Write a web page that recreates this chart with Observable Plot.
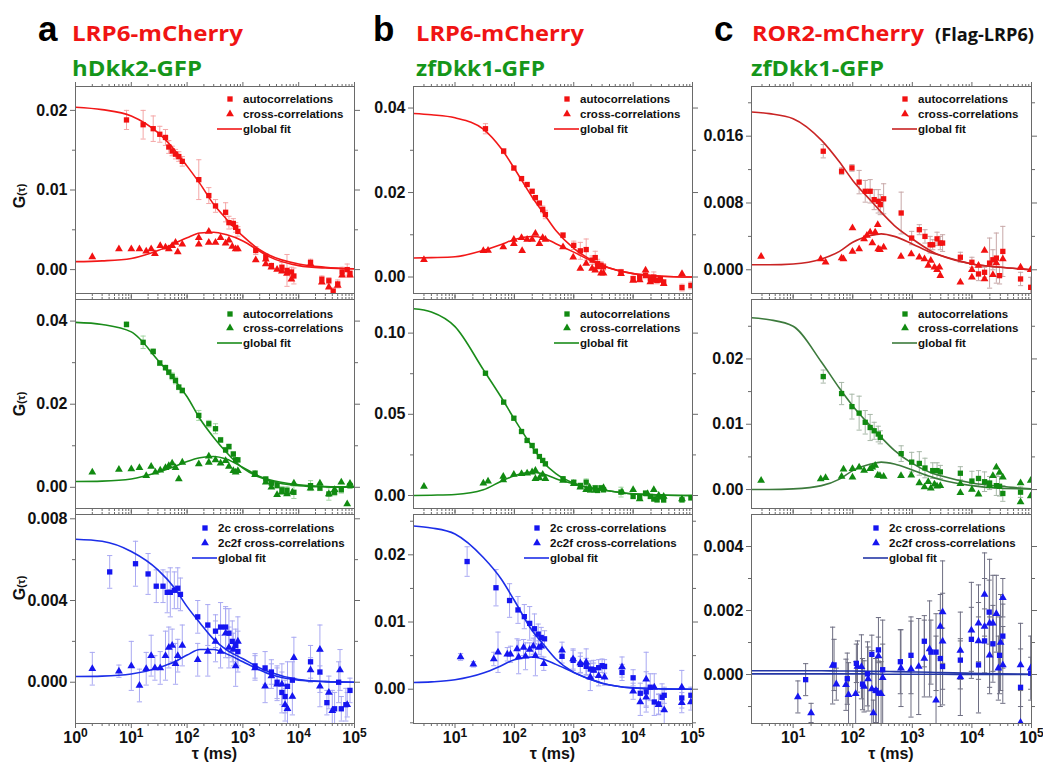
<!DOCTYPE html>
<html><head><meta charset="utf-8">
<script src="https://cdn.jsdelivr.net/npm/d3@7"></script>
<script src="https://cdn.jsdelivr.net/npm/@observablehq/plot@0.6"></script>
<style>
body{margin:0;background:#fff;}
#fig{position:relative;width:1043px;height:769px;overflow:hidden;background:#fff;}
</style></head><body><div id="fig"></div>
<script>
// ---------- text ----------
const panelLetters = ["a", "b", "c"];
const redTitles = ["LRP6-mCherry", "LRP6-mCherry", "ROR2-mCherry"];
const greenTitles = ["hDkk2-GFP", "zfDkk1-GFP", "zfDkk1-GFP"];
const extraTitle = "(Flag-LRP6)";
const topLegend = ["autocorrelations", "cross-correlations", "global fit"];
const bottomLegend = ["2c cross-correlations", "2c2f cross-correlations", "global fit"];
const xLabel = "τ (ms)";

// ---------- column a, top (LRP6-mCherry / hDkk2-GFP, red channel) ----------
const aTopAutoT = [8.2,16.3,24.7,32.4,41,47,54,62,71,82,162,245,323,490,562,673,741,813,1700,2570,3240,5000,6170,7400,8200,16300,26000,34700,41500,50000,60000,74000,83000];
const aTopAutoG = [0.0188,0.0182,0.0177,0.0170,0.0166,0.0154,0.0149,0.0145,0.0142,0.0136,0.0113,0.0093,0.0080,0.0072,0.0059,0.0058,0.0053,0.0048,0.0024,0.0016,0.0005,0.0003,-0.0001,-0.0003,-0.0008,0.0009,-0.0012,-0.0014,-0.0027,-0.0018,-0.0003,0.0000,-0.0005];
const aTopAutoE = [0.0012,0.0018,0.0016,0.0010,0.0010,0.0008,0.0006,0.0006,0.0006,0.0006,0.0025,0.0010,0.0008,0.0012,0.0008,0.0006,0.0006,0.0006,0.0005,0.0004,0.0003,0.0006,0.0020,0.0006,0.0010,0.0004,0.0004,0.0004,0.0004,0.0005,0.0006,0.0007,0.0004];
const aTopCrossT = [2.0,6.0,10,14,18.5,22.7,26.5,33,41,47,54,62,68,82,162,162,245,245,323,398,490,562,645,741,813,1700,2570,2570,3240,4100,5000,6170,7400,16300,26000,34700,50000,60000,83000];
const aTopCrossG = [0.0016,0.0026,0.0026,0.0026,0.0023,0.0026,0.0020,0.0030,0.0028,0.0026,0.0030,0.0034,0.0022,0.0032,0.0040,0.0032,0.0048,0.0034,0.0034,0.0040,0.0033,0.0037,0.0029,0.0026,0.0026,0.0012,0.0013,0.0007,0.0003,0.0000,-0.0002,-0.0005,-0.0012,0.0007,-0.0016,-0.0022,-0.0020,-0.0007,-0.0007];
const aFitT = [1,3,10,30,60,100,170,300,500,1000,2000,3000,10000,30000,100000];
const aTopFitAuto = [0.0204,0.0201,0.0193,0.0172,0.0150,0.0130,0.0108,0.0082,0.0064,0.0042,0.0025,0.0018,0.0007,0.0003,0.0001];
const aTopFitCross = [0.0010,0.0011,0.0014,0.0024,0.0033,0.0040,0.0046,0.0047,0.0044,0.0036,0.0023,0.0016,0.0005,0.0002,0.0001];

// ---------- column a, middle (green channel) ----------
const aMidAutoT = [8.2,16.3,24.7,32.4,41,47,54,62,71,82,162,245,323,398,490,562,673,741,813,1650,2570,3240,4100,5000,6170,8200,16300,24000,34700,44000,58000,83000];
const aMidAutoG = [0.0392,0.0349,0.0327,0.0299,0.0288,0.0277,0.0267,0.0257,0.0241,0.0233,0.0173,0.0153,0.0141,0.0114,0.0090,0.0098,0.0080,0.0066,0.0066,0.0034,0.0020,0.0010,0.0004,-0.0006,-0.0007,-0.0012,0.0004,-0.0002,-0.0016,-0.0012,-0.0006,0.0004];
const aMidAutoE = [0.0006,0.0015,0.0006,0.0006,0.0006,0.0006,0.0008,0.0008,0.0006,0.0006,0.0012,0.0008,0.0012,0.0006,0.0006,0.0006,0.0006,0.0005,0.0005,0.0005,0.0005,0.0005,0.0005,0.0008,0.0008,0.0015,0.0012,0.0006,0.0015,0.0008,0.0008,0.0006];
const aMidCrossT = [2.0,6,10,14,18.5,22.7,27,33,41,47,54,62,71,82,162,245,245,323,398,490,562,673,741,813,1650,2570,3240,4100,5000,6170,7700,8200,16300,24000,34700,44000,58000,74000,83000];
const aMidCrossG = [0.0036,0.0043,0.0044,0.0047,0.0028,0.0050,0.0036,0.0041,0.0047,0.0052,0.0058,0.0047,0.0020,0.0060,0.0056,0.0075,0.0060,0.0066,0.0058,0.0064,0.0050,0.0040,0.0036,0.0040,0.0030,0.0012,0.0000,-0.0018,-0.0012,-0.0016,-0.0012,0.0010,-0.0002,0.0010,-0.0016,-0.0006,0.0012,-0.0040,0.0009];
const aMidFitAuto = [0.0397,0.0392,0.0374,0.0306,0.0258,0.0218,0.0165,0.0120,0.0085,0.0046,0.0024,0.0016,0.0004,0.0001,0.0000];
const aMidFitCross = [0.0014,0.0015,0.0020,0.0036,0.0050,0.0062,0.0071,0.0074,0.0068,0.0048,0.0026,0.0018,0.0006,0.0002,0.0001];

// ---------- column a, bottom (two-colour, blue) ----------
const aBot2cT = [4.1,11.9,20,28,37,44,50,59,68,76,155,235,323,398,490,562,645,741,813,1650,2500,3240,4100,5000,5700,6300,7700,16300,24000,32000,44000,52000,58000,70000,83000];
const aBot2cG = [0.0054,0.0058,0.0053,0.0047,0.0047,0.0044,0.0044,0.0045,0.0046,0.0043,0.0032,0.0028,0.0025,0.0027,0.0027,0.0024,0.0020,0.0018,0.0015,0.0008,0.0007,0.0005,0.0000,-0.0005,-0.0007,-0.0002,0.0001,0.0010,0.0005,-0.0010,-0.0013,0.0000,-0.0013,-0.0011,-0.0004];
const aBot2cE = [0.0008,0.0011,0.0010,0.0008,0.0008,0.0010,0.0012,0.0009,0.0010,0.0008,0.0008,0.0010,0.0008,0.0012,0.0010,0.0012,0.0010,0.0008,0.0010,0.0006,0.0008,0.0006,0.0008,0.0010,0.0008,0.0012,0.0009,0.0008,0.0010,0.0006,0.0008,0.0010,0.0006,0.0008,0.0006];
const aBot2c2fT = [2.0,6,10,14,18.5,22.7,26.5,33,41,47,54,62,68,82,155,235,323,398,490,562,673,741,813,1650,2500,3240,4100,5000,5700,6300,7700,8200,16300,24000,24000,34700,40000,55000,74000];
const aBot2c2fG = [0.00066,0.00054,0.0008,-0.00016,0.00066,0.0013,0.0007,0.0007,0.0013,0.0017,0.0018,0.0009,0.0013,0.0018,0.0011,0.0015,0.0020,0.0015,0.0024,0.0017,0.0016,0.0008,0.0020,0.0007,-0.0002,0.0003,-0.0001,-0.0001,-0.0011,-0.0013,-0.0007,0.0012,0.0006,0.0016,-0.0002,-0.0005,-0.0014,0.0006,-0.0011];
const aBot2c2fE = [0.0008,0.0003,0.0012,0.0008,0.0008,0.0010,0.0006,0.0008,0.0012,0.0010,0.0008,0.0010,0.0008,0.0010,0.0008,0.0012,0.0010,0.0008,0.0012,0.0010,0.0008,0.0010,0.0012,0.0006,0.0008,0.0006,0.0008,0.0010,0.0008,0.0010,0.0009,0.0010,0.0006,0.0012,0.0010,0.0008,0.0010,0.0010,0.0006];
const aBotFit2c = [0.0070,0.0069,0.0064,0.0055,0.0046,0.0037,0.0029,0.0021,0.0016,0.00115,0.0007,0.0005,0.00013,0.00003,0.0];
const aBotFit2c2f = [0.00028,0.0003,0.0004,0.0007,0.0010,0.00133,0.0016,0.0016,0.0014,0.0010,0.0006,0.0004,0.0001,0.00003,0.0];

// ---------- column b, top ----------
const bTopAutoT = [32.6,66,98,132,164,199,226,264,300,333,660,1000,1290,1620,2040,2300,2520,2880,3170,6250,10000,12900,16200,19500,22300,25300,28800,32700,66500,94000];
const bTopAutoG = [0.0351,0.0298,0.0258,0.0233,0.0219,0.0203,0.0188,0.0175,0.0160,0.0148,0.0099,0.0075,0.0062,0.0065,0.0040,0.0046,0.0032,0.0028,0.0024,0.0012,-0.0004,0.0000,0.0004,-0.0004,0.0000,-0.0008,-0.0004,-0.0012,-0.0025,-0.0020];
const bTopAutoE = [0.0012,0.0006,0.0004,0.0004,0.0004,0.0004,0.0004,0.0004,0.0008,0.0010,0.0006,0.0010,0.0020,0.0025,0.0010,0.0015,0.0010,0.0008,0.0008,0.0006,0.0006,0.0006,0.0008,0.0008,0.0012,0.0008,0.0006,0.0006,0.0008,0.0008];
const bTopCrossT = [3.0,30,36,65,98,98,132,135,164,199,226,264,300,333,660,980,1290,1620,2040,2300,2520,2880,3170,6250,10000,12900,16200,19500,22300,27000,32700,66500];
const bTopCrossG = [0.0041,0.0062,0.0063,0.0071,0.0089,0.0079,0.0093,0.0062,0.0089,0.0089,0.0103,0.0079,0.0093,0.0089,0.0071,0.0047,0.0020,0.0032,0.0020,0.0016,0.0024,0.0009,0.0009,0.0008,-0.0008,-0.0007,0.0016,-0.0012,-0.0008,-0.0008,-0.0016,0.0008];
const bcFitT = [2,4,10,30,60,100,200,300,500,1000,2000,3000,10000,30000,100000];
const bTopFitAuto = [0.0387,0.0384,0.0377,0.0350,0.0304,0.0257,0.0189,0.0154,0.0110,0.0068,0.0040,0.0028,0.0008,0.0002,0.0];
const bTopFitCross = [0.0045,0.0046,0.0048,0.0063,0.0077,0.0089,0.0096,0.0093,0.0079,0.0059,0.0038,0.0027,0.0008,0.0002,0.0];

// ---------- column b, middle ----------
const bMidAutoT = [32.6,66,98,132,164,199,226,264,300,333,660,1000,1290,1620,1850,2300,2520,2880,3170,6250,10000,12900,16200,19500,22300,25300,28800,32700,66500,94000];
const bMidAutoG = [0.0753,0.0575,0.0476,0.0394,0.0339,0.0308,0.0273,0.0240,0.0216,0.0195,0.0103,0.0082,0.0062,0.0082,0.0035,0.0047,0.0031,0.0047,0.0035,0.0021,-0.0006,-0.0008,0.0014,-0.0006,-0.0021,-0.0027,-0.0008,-0.0027,-0.0027,-0.0014];
const bMidAutoE = [0.0010,0.0010,0.0010,0.0008,0.0008,0.0008,0.0008,0.0008,0.0008,0.0010,0.0010,0.0010,0.0012,0.0020,0.0015,0.0015,0.0012,0.0015,0.0012,0.0030,0.0010,0.0012,0.0015,0.0012,0.0015,0.0012,0.0012,0.0015,0.0012,0.0015];
const bMidCrossT = [3.0,30,36,65,65,98,132,164,199,226,226,264,300,333,660,1000,1290,1620,1850,2300,3170,6500,10000,12900,17500,22300,27000,32700,66500];
const bMidCrossG = [0.0055,0.0076,0.0088,0.0117,0.0096,0.0129,0.0134,0.0137,0.0144,0.0154,0.0103,0.0108,0.0129,0.0103,0.0092,0.0072,0.0051,0.0035,0.0051,0.0031,0.0047,0.0021,0.0035,-0.0021,0.0010,0.0035,0.0000,-0.0006,-0.0021];
const bMidFitAuto = [0.115,0.113,0.104,0.0775,0.0605,0.047,0.030,0.021,0.0135,0.0076,0.0045,0.0035,0.0010,0.0003,0.0];
const bMidFitCross = [0.0,0.0002,0.0006,0.0035,0.0088,0.0121,0.0144,0.0134,0.0103,0.0072,0.0045,0.0035,0.0010,0.0003,0.0];

// ---------- column b, bottom ----------
const bBot2cT = [16,49,83,115,147,181,218,252,283,322,635,975,1290,1620,1900,2160,2630,3000,3300,6500,10000,13200,16600,19400,22700,26800,30700,33400,66000,94000];
const bBot2cG = [0.0190,0.0151,0.0132,0.0118,0.0108,0.0098,0.0090,0.0082,0.0077,0.0075,0.0049,0.0043,0.0037,0.0034,0.0030,0.0029,0.0032,0.0035,0.0034,0.0025,0.0017,-0.0006,-0.0004,0.0003,-0.0019,-0.0022,-0.0012,-0.0009,-0.0013,-0.0009];
const bBot2cE = [0.0022,0.0027,0.0025,0.0020,0.0018,0.0025,0.0022,0.0015,0.0015,0.0012,0.0010,0.0015,0.0012,0.0012,0.0012,0.0010,0.0012,0.0010,0.0010,0.0012,0.0012,0.0015,0.0030,0.0020,0.0020,0.0015,0.0020,0.0012,0.0015,0.0012];
const bBot2c2fT = [12.4,20.4,45,53,76,86,111,118,143,154,181,208,226,258,283,313,635,975,1290,1620,1900,2160,2630,3300,6500,10000,13200,16600,16600,22700,26800,33400,66000,66000,94000];
const bBot2c2fG = [0.0048,0.0037,0.0045,0.0055,0.0052,0.0052,0.0060,0.0048,0.0062,0.0049,0.0059,0.0064,0.0050,0.0062,0.0064,0.0038,0.0058,0.0045,0.0039,0.0040,0.0018,0.0028,0.0020,0.0018,0.0033,-0.0003,-0.0019,0.0015,-0.0012,0.0003,-0.0023,-0.0031,0.0003,-0.0020,-0.0019];
const bBot2c2fE = [0.0005,0.0004,0.0010,0.0030,0.0010,0.0012,0.0015,0.0025,0.0012,0.0020,0.0010,0.0012,0.0030,0.0010,0.0015,0.0010,0.0012,0.0015,0.0015,0.0020,0.0020,0.0015,0.0015,0.0012,0.0015,0.0012,0.0020,0.0040,0.0015,0.0020,0.0015,0.0030,0.0025,0.0015,0.0012];
const bBotFit2c = [0.0243,0.0240,0.0231,0.0196,0.0164,0.0132,0.0087,0.0068,0.0045,0.0025,0.0014,0.0009,0.0002,0.00005,0.0];
const bBotFit2c2f = [0.0010,0.0011,0.0014,0.0024,0.0035,0.0044,0.0048,0.0045,0.0037,0.0025,0.0014,0.0009,0.0002,0.00005,0.0];

// ---------- column c, top ----------
const cTopAutoT = [32,65,97,128,162,196,229,268,290,330,650,975,1310,1630,1990,2200,2600,2950,3220,6400,10000,12900,16300,19800,22500,25700,29100,33000,65500,97000];
const cTopAutoG = [0.0142,0.0118,0.0122,0.0105,0.0094,0.0094,0.0084,0.0082,0.0078,0.0085,0.0068,0.0038,0.0048,0.0040,0.0030,0.0030,0.0037,0.0032,0.0032,0.0015,0.0009,-0.0005,-0.0003,0.0008,0.0012,0.0014,-0.0007,0.0022,-0.0011,-0.0021];
const cTopAutoE = [0.0008,0.0004,0.0004,0.0014,0.0013,0.0014,0.0012,0.0014,0.0012,0.0018,0.0025,0.0008,0.0006,0.0008,0.0010,0.0006,0.0008,0.0008,0.0010,0.0006,0.0006,0.0008,0.0006,0.0030,0.0012,0.0030,0.0010,0.0030,0.0008,0.0012];
const cTopCrossT = [2.9,29,35,65,70,99,99,128,155,173,196,213,238,263,268,286,330,645,960,1310,1600,1850,2040,2350,2600,2850,2950,6400,10000,10000,12900,16300,16300,22500,25700,33000,65500,97000];
const cTopCrossG = [0.0016,0.0013,0.0009,0.0014,0.0013,0.0050,0.0022,0.0025,0.0037,0.0041,0.0045,0.0032,0.0045,0.0054,0.0025,0.0024,0.0027,0.0016,0.0019,0.0015,0.0013,0.0005,0.0011,0.0003,0.0000,0.0003,-0.0007,-0.0015,0.0000,-0.0009,0.0005,-0.0011,0.0023,-0.0006,0.0008,0.0013,0.0003,0.0000];
const cTopFitAuto = [0.0189,0.0187,0.0181,0.0155,0.0129,0.0107,0.0083,0.0069,0.0053,0.0037,0.0023,0.0017,0.0007,0.0003,0.0];
const cTopFitCross = [0.0006,0.0006,0.0007,0.0013,0.0022,0.0033,0.0041,0.0043,0.0040,0.0031,0.0021,0.0017,0.0007,0.0003,0.0];

// ---------- column c, middle ----------
const cMidAutoT = [32,65,97,128,162,196,229,268,290,650,975,1310,1630,2200,2600,2950,6400,10000,12900,16300,19800,25700,29100,33000,65500];
const cMidAutoG = [0.0173,0.0147,0.0127,0.0117,0.0103,0.0095,0.0090,0.0085,0.0080,0.0055,0.0042,0.0040,0.0033,0.0029,0.0029,0.0027,0.0025,0.0013,0.0017,0.0012,0.0010,0.0006,0.0005,-0.0006,-0.0004];
const cMidAutoE = [0.0010,0.0017,0.0019,0.0026,0.0018,0.0020,0.0013,0.0012,0.0010,0.0012,0.0015,0.0018,0.0015,0.0012,0.0012,0.0010,0.0010,0.0015,0.0012,0.0015,0.0010,0.0015,0.0015,0.0012,0.0008];
const cMidCrossT = [2.9,29,35,65,70,99,99,128,155,196,213,238,263,286,330,645,960,1310,1600,1850,2040,2350,2600,2950,6400,6400,10000,12900,19800,22500,25700,29100,33000,65500,65500,97000,97000];
const cMidCrossG = [0.0014,0.0016,0.0018,0.0020,0.0031,0.0032,0.0019,0.0034,0.0029,0.0032,0.0034,0.0037,0.0022,0.0021,0.0020,0.0021,0.0022,0.0010,0.0004,0.0012,0.0002,0.0008,0.0005,0.0006,0.0009,-0.0005,0.0000,-0.0007,0.0006,0.0021,0.0034,0.0026,0.0019,0.0010,-0.0019,0.0014,-0.0010];
const cMidFitAuto = [0.0263,0.0260,0.0250,0.0195,0.0155,0.0128,0.0097,0.0080,0.0060,0.0040,0.0026,0.0021,0.0010,0.0005,0.0001];
const cMidFitCross = [0.0,0.0,0.0001,0.0006,0.0016,0.0029,0.0039,0.0042,0.0039,0.0030,0.0020,0.0015,0.0006,0.0002,0.0001];

// ---------- column c, bottom ----------
const cBot2cT = [16.2,48.6,81,115,146,177,209,245,270,270,318,630,950,1590,2050,2500,2950,3220,6400,9800,12900,16300,19500,22500,29100,33000,65500,97000];
const cBot2cG = [-0.00016,0.0003,-0.00013,0.00035,-0.0003,0.00002,0.00063,-0.0005,-0.00058,0.00077,0.00015,0.0004,0.0006,0.00104,0.0007,0.0007,0.0005,0.00025,0.00045,0.0011,0.0003,0.00105,0.00195,0.00096,0.0006,0.0012,-0.0004,0.00004];
const cBot2cE = [0.0005,0.0008,0.0008,0.0006,0.0008,0.0010,0.0006,0.0010,0.0010,0.0004,0.0008,0.0010,0.0012,0.0008,0.0010,0.0012,0.0015,0.0012,0.0006,0.0010,0.0015,0.0010,0.0010,0.0012,0.0012,0.0010,0.0012,0.0005];
const cBot2c2fT = [12,20,46,53,77,85,112,120,140,155,181,209,222,245,270,299,318,645,950,1280,1590,1950,2500,2950,3220,3220,6400,6400,9800,12900,12900,16300,16300,19800,19800,22500,25700,27800,30300,33000,33000,65500,65500,97000];
const cBot2c2fG = [-0.0007,-0.0012,0.00028,-0.0003,-0.00032,-0.00063,-0.0006,0.00025,0.00024,-0.00037,-0.00014,-0.00045,-0.0012,-0.0005,0.00058,-0.0006,-0.0001,0.0002,0.00017,0.00025,0.0005,0.0008,-0.0008,0.0015,0.00195,0.00104,-0.00008,0.00075,0.00138,0.0016,0.00105,0.0025,0.0015,0.0016,0.0006,0.0016,0.0019,0.0002,0.0010,0.0024,0.0003,0.0003,-0.0015,0.0002];
const cBot2c2fE = [0.0005,0.0003,0.0012,0.0005,0.0008,0.0010,0.0010,0.0008,0.0010,0.0008,0.0010,0.0012,0.0004,0.0010,0.0012,0.0010,0.0018,0.0012,0.0015,0.0015,0.0012,0.0015,0.0020,0.0010,0.0016,0.0015,0.0012,0.0012,0.0015,0.0012,0.0012,0.0013,0.0015,0.0020,0.0012,0.0015,0.0012,0.0010,0.0015,0.0006,0.0012,0.0013,0.0010,0.0010];
const cBotFit2c = [0.00012,0.00012,0.00012,0.00012,0.00011,0.00011,0.00010,0.00010,0.00009,0.00008,0.00007,0.00006,0.00004,0.00002,0.00001];
const cBotFit2c2f = [0.00002,0.00002,0.00002,0.00002,0.00002,0.00002,0.00002,0.00001,0.00001,0.00001,0.00001,0.00001,0.0,0.0,0.0];

// ---------- axis ranges & ticks ----------
const xDomains = [[1, 1e5], [2, 1e5], [2, 1e5]];
const yDomains = [
  [[-0.003, 0.023], [-0.0051, 0.0452], [-0.00202, 0.00821]],
  [[-0.0039, 0.0451], [-0.008, 0.1207], [-0.0051, 0.026]],
  [[-0.00284, 0.02195], [-0.0029, 0.0291], [-0.00153, 0.0050]]
];
const yMajorTicks = [
  [[0, 0.01, 0.02], [0, 0.02, 0.04], [0, 0.004, 0.008]],
  [[0, 0.02, 0.04], [0, 0.05, 0.10], [0, 0.01, 0.02]],
  [[0, 0.008, 0.016], [0, 0.01, 0.02], [0, 0.002, 0.004]]
];
const yMinorTicks = [
  [[0.005, 0.015], [0.01, 0.03], [0.002, 0.006]],
  [[0.01, 0.03], [0.025, 0.075], [-0.005, 0.005, 0.015, 0.025]],
  [[0.004, 0.012, 0.020], [0.005, 0.015, 0.025], [-0.001, 0.001, 0.003]]
];
const yFormats = [[".2f", ".2f", ".3f"], [".2f", ".2f", ".2f"], [".3f", ".2f", ".3f"]];

// ---------- layout ----------
const colLeft = [75, 413, 751], colWidth = [279, 279, 280];
const rowTop = [86, 299, 514], rowHeight = [207, 209, 209];

const series = [
  [
    {s1: [aTopAutoT, aTopAutoG, aTopAutoE], s2: [aTopCrossT, aTopCrossG, null], fit: [aFitT, aTopFitAuto, aTopFitCross]},
    {s1: [aMidAutoT, aMidAutoG, aMidAutoE], s2: [aMidCrossT, aMidCrossG, null], fit: [aFitT, aMidFitAuto, aMidFitCross]},
    {s1: [aBot2cT, aBot2cG, aBot2cE], s2: [aBot2c2fT, aBot2c2fG, aBot2c2fE], fit: [aFitT, aBotFit2c, aBotFit2c2f]}
  ],
  [
    {s1: [bTopAutoT, bTopAutoG, bTopAutoE], s2: [bTopCrossT, bTopCrossG, null], fit: [bcFitT, bTopFitAuto, bTopFitCross]},
    {s1: [bMidAutoT, bMidAutoG, bMidAutoE], s2: [bMidCrossT, bMidCrossG, null], fit: [bcFitT, bMidFitAuto, bMidFitCross]},
    {s1: [bBot2cT, bBot2cG, bBot2cE], s2: [bBot2c2fT, bBot2c2fG, bBot2c2fE], fit: [bcFitT, bBotFit2c, bBotFit2c2f]}
  ],
  [
    {s1: [cTopAutoT, cTopAutoG, cTopAutoE], s2: [cTopCrossT, cTopCrossG, null], fit: [bcFitT, cTopFitAuto, cTopFitCross]},
    {s1: [cMidAutoT, cMidAutoG, cMidAutoE], s2: [cMidCrossT, cMidCrossG, null], fit: [bcFitT, cMidFitAuto, cMidFitCross]},
    {s1: [cBot2cT, cBot2cG, cBot2cE], s2: [cBot2c2fT, cBot2c2fG, cBot2c2fE], fit: [bcFitT, cBotFit2c, cBotFit2c2f]}
  ]
];

const markerColor = ["#f21111", "#118a11", "#1515f0"];
const fitColor = [["#f21818", "#f21818", "#c92424"], ["#1a8c1a", "#1a8c1a", "#3c7a3c"], ["#1c2ee8", "#1c2ee8", "#2437a6"]];
const errColor = [["#f4a6a6", "#f4a6a6", "#c8a8a8"], ["#a3d6a3", "#a3d6a3", "#a8b8a8"], ["#a9a9f2", "#a9a9f2", "#6e6e82"]];

const fig = document.getElementById("fig");
const SVGNS = "http://www.w3.org/2000/svg";
const capSymbol = {draw(ctx) { ctx.moveTo(-2.6, 0); ctx.lineTo(2.6, 0); }};
const blank = () => "";

function toRows([T, G, E]) {
  return T.map((t, i) => ({t, g: G[i], lo: E ? G[i] - E[i] : null, hi: E ? G[i] + E[i] : null}));
}

function xTicks(xmin) {
  const major = [], minor = [];
  for (let d = 1; d <= 1e5; d *= 10) {
    if (d >= xmin) major.push(d);
    if (d < 1e5) for (let k = 2; k < 10; k++) { const v = k * d; if (v > xmin && v < 1e5) minor.push(v); }
  }
  return {major, minor};
}

function drawPanel(col, row) {
  const S = series[col][row];
  const left = colLeft[col], top = rowTop[row], w = colWidth[col], h = rowHeight[row];
  const mL = 70, mR = 12, mT = 8, mB = row === 2 ? 46 : 8;
  const s1 = toRows(S.s1), s2 = toRows(S.s2);
  const [FT, F1, F2] = S.fit;
  const f1 = FT.map((t, i) => ({t, g: F1[i]}));
  const f2 = FT.map((t, i) => ({t, g: F2[i]}));
  const {major, minor} = xTicks(xDomains[col][0]);
  const ec = errColor[row][col], mc = markerColor[row], fc = fitColor[row][col];
  const axStroke = "#6a6a6a";
  const marks = [
    Plot.axisY({ticks: yMajorTicks[col][row], anchor: "left", tickSize: 5, tickPadding: 3, tickFormat: d3.format(yFormats[col][row]), label: null, stroke: axStroke}),
    Plot.axisY({ticks: yMinorTicks[col][row], anchor: "left", tickSize: 3, tickFormat: blank, label: null, stroke: axStroke}),
    Plot.axisY({ticks: yMajorTicks[col][row], anchor: "right", tickSize: 5, tickFormat: blank, label: null, stroke: axStroke}),
    Plot.axisY({ticks: yMinorTicks[col][row], anchor: "right", tickSize: 3, tickFormat: blank, label: null, stroke: axStroke}),
    Plot.axisX({ticks: major, anchor: "bottom", tickSize: 5, tickPadding: 3,
      tickFormat: row === 2 ? (d => "10^" + Math.round(Math.log10(d))) : blank, label: null, stroke: axStroke}),
    Plot.axisX({ticks: minor, anchor: "bottom", tickSize: 3, tickFormat: blank, label: null, stroke: axStroke}),
    Plot.axisX({ticks: major, anchor: "top", tickSize: 5, tickFormat: blank, label: null, stroke: axStroke}),
    Plot.axisX({ticks: minor, anchor: "top", tickSize: 3, tickFormat: blank, label: null, stroke: axStroke}),
  ];
  for (const s of [s2, s1]) {
    const withErr = s.filter(d => d.lo != null);
    if (withErr.length) {
      marks.push(Plot.ruleX(withErr, {x: "t", y1: "lo", y2: "hi", stroke: ec, strokeWidth: 1, clip: true}));
      marks.push(Plot.dot(withErr, {x: "t", y: "hi", symbol: capSymbol, r: 3, stroke: ec, fill: "none", strokeWidth: 1, clip: true}));
      marks.push(Plot.dot(withErr, {x: "t", y: "lo", symbol: capSymbol, r: 3, stroke: ec, fill: "none", strokeWidth: 1, clip: true}));
    }
  }
  marks.push(Plot.line(f2, {x: "t", y: "g", stroke: fc, strokeWidth: 1.6, curve: "monotone-x", clip: true}));
  marks.push(Plot.line(f1, {x: "t", y: "g", stroke: fc, strokeWidth: 1.6, curve: "monotone-x", clip: true}));
  marks.push(Plot.dot(s2, {x: "t", y: "g", symbol: "triangle", r: 2.9, fill: mc, stroke: "none", clip: true}));
  marks.push(Plot.dot(s1, {x: "t", y: "g", symbol: "square", r: 3.0, fill: mc, stroke: "none", clip: true}));
  marks.push(Plot.frame({stroke: "#6a6a6a", strokeWidth: 1}));

  const svg = Plot.plot({
    width: mL + w + mR, height: mT + h + mB,
    marginLeft: mL, marginRight: mR, marginTop: mT, marginBottom: mB,
    x: {type: "log", domain: xDomains[col]},
    y: {domain: yDomains[col][row]},
    style: {background: "transparent", fontFamily: "'Liberation Sans', Arial, sans-serif", fontSize: "16px", fontWeight: "bold", color: "#111", overflow: "visible"},
    marks
  });
  svg.style.position = "absolute";
  svg.style.left = (left - mL) + "px";
  svg.style.top = (top - mT) + "px";
  svg.querySelectorAll("text").forEach(t => {
    const s = t.textContent;
    if (s.includes("^")) {
      const n = s.split("^")[1];
      t.textContent = "10";
      const ts = document.createElementNS(SVGNS, "tspan");
      ts.setAttribute("dy", "-0.5em");
      ts.setAttribute("font-size", "12px");
      ts.textContent = n;
      t.appendChild(ts);
    }
  });
  fig.appendChild(svg);
}

for (let c = 0; c < 3; c++) for (let r = 0; r < 3; r++) drawPanel(c, r);

// ---------- overlay: headings, axis titles, legends ----------
const ov = d3.select(fig).append("svg").attr("width", 1043).attr("height", 769)
  .style("position", "absolute").style("left", "0px").style("top", "0px").style("overflow", "visible");

const letterX = [38, 373, 714];
const redX = [72, 416, 752], redW = [171, 168, 172];
const greenX = [72, 416, 751], greenW = [130, 129, 133];
for (let c = 0; c < 3; c++) {
  ov.append("text").attr("x", letterX[c]).attr("y", 41).text(panelLetters[c])
    .attr("font-family", "'Liberation Sans', Arial, sans-serif").attr("font-weight", "bold").attr("font-size", 35).attr("fill", "#000");
  ov.append("text").attr("x", redX[c]).attr("y", 41).text(redTitles[c])
    .attr("font-family", "'Open Sans', sans-serif").attr("font-weight", 700).attr("font-size", 21.5).attr("fill", "#f01414")
    .attr("textLength", redW[c]).attr("lengthAdjust", "spacingAndGlyphs");
  ov.append("text").attr("x", greenX[c]).attr("y", 76).text(greenTitles[c])
    .attr("font-family", "'Open Sans', sans-serif").attr("font-weight", 700).attr("font-size", 21.5).attr("fill", "#15961a")
    .attr("textLength", greenW[c]).attr("lengthAdjust", "spacingAndGlyphs");
}
ov.append("text").attr("x", 935).attr("y", 41).text(extraTitle)
  .attr("font-family", "'Open Sans', sans-serif").attr("font-weight", 700).attr("font-size", 17.5).attr("fill", "#111")
  .attr("textLength", 99).attr("lengthAdjust", "spacingAndGlyphs");

// y-axis titles G(τ)
const gLabelY = [196, 404, 588];
for (let r = 0; r < 3; r++) {
  const t = ov.append("text").attr("transform", `translate(25,${gLabelY[r]}) rotate(-90)`).attr("text-anchor", "middle")
    .attr("font-family", "'Liberation Sans', Arial, sans-serif").attr("font-weight", "bold").attr("fill", "#111");
  t.append("tspan").attr("font-size", 16).text("G");
  t.append("tspan").attr("font-size", 11).text("(τ)");
}
// x-axis titles
for (let c = 0; c < 3; c++) {
  ov.append("text").attr("x", colLeft[c] + colWidth[c] / 2).attr("y", 759).attr("text-anchor", "middle")
    .attr("font-family", "'Liberation Sans', Arial, sans-serif").attr("font-weight", "bold").attr("font-size", 16)
    .attr("fill", "#111").text(xLabel);
}

// legends
const legendTextX = [[168, 168, 143], [167, 167, 137], [167, 167, 138]];
const legendRowY = [[13, 28, 43], [15, 29, 44], [14, 29, 44]];
const sq = d3.symbol().type(d3.symbolSquare).size(Math.PI * 3.0 * 3.0)();
const tri = d3.symbol().type(d3.symbolTriangle).size(Math.PI * 2.9 * 2.9)();
for (let c = 0; c < 3; c++) for (let r = 0; r < 3; r++) {
  const labels = r === 2 ? bottomLegend : topLegend;
  const tx = colLeft[c] + legendTextX[c][r];
  const mc = markerColor[r], fc = fitColor[r][c];
  for (let i = 0; i < 3; i++) {
    const cy = rowTop[r] + legendRowY[r][i];
    if (i < 2) {
      ov.append("path").attr("d", i === 0 ? sq : tri).attr("transform", `translate(${tx - 13},${cy})`).attr("fill", mc);
    } else {
      ov.append("line").attr("x1", tx - 26).attr("x2", tx - 1).attr("y1", cy).attr("y2", cy).attr("stroke", fc).attr("stroke-width", 1.6);
    }
    ov.append("text").attr("x", tx).attr("y", cy + 4.2).text(labels[i])
      .attr("font-family", "'Liberation Sans', Arial, sans-serif").attr("font-weight", "bold").attr("font-size", 11.5).attr("fill", "#111");
  }
}
</script></body></html>
